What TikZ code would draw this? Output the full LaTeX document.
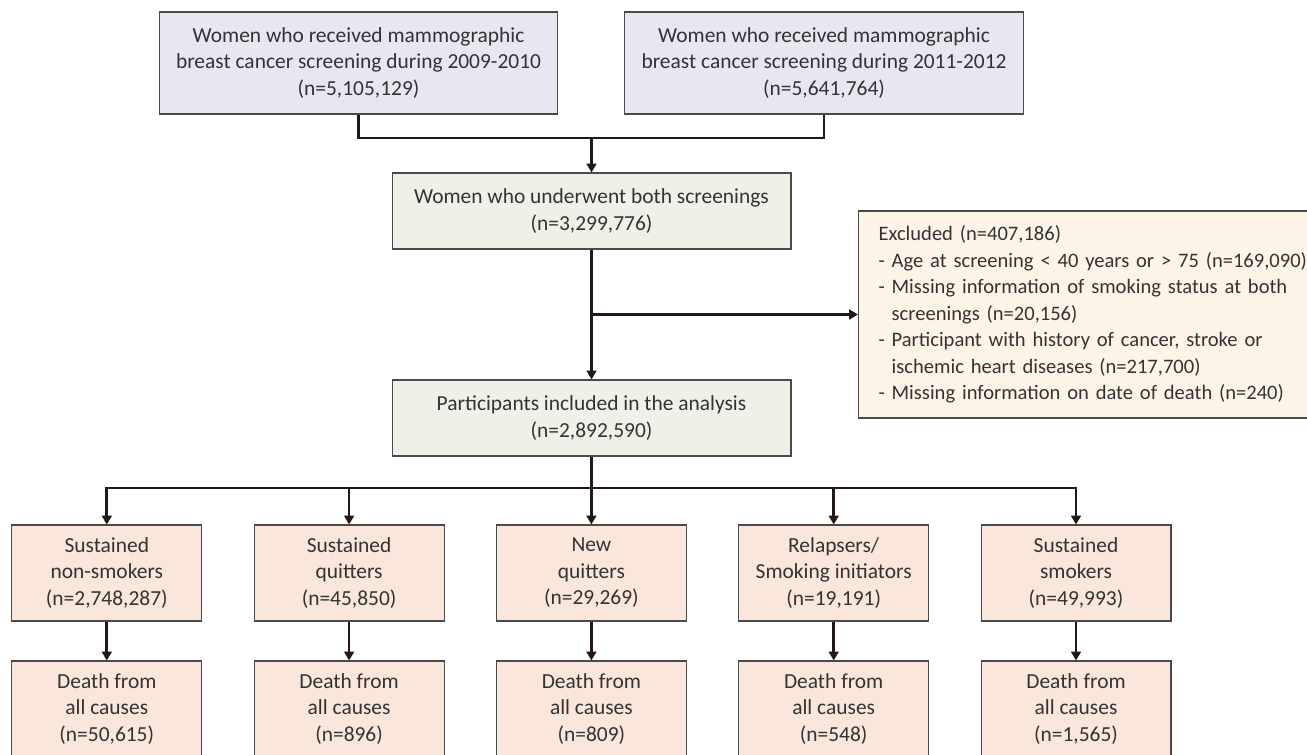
\documentclass[tikz,border=0pt]{standalone}
\usepackage{fontspec}
\setmainfont{Carlito}
\usepackage{xcolor}
\usetikzlibrary{arrows.meta}
\definecolor{screenfill}{HTML}{E7E7F1}
\definecolor{mainfill}{HTML}{EEF1E8}
\definecolor{exclfill}{HTML}{FDF4E8}
\definecolor{groupfill}{HTML}{FAE6DB}
\definecolor{boxline}{HTML}{4A4A4A}
\definecolor{connline}{HTML}{231815}
\definecolor{txtgray}{HTML}{333333}
\tikzset{
    flowbox/.style={draw=boxline, line width=0.6pt, align=center, inner sep=0pt, text=txtgray,
        font=\fontsize{12.2}{15.1}\selectfont},
    screenbox/.style={flowbox, fill=screenfill, minimum width=7.98cm, minimum height=2.04cm},
    mainbox/.style={flowbox, fill=mainfill, minimum width=7.98cm, minimum height=1.52cm},
    groupbox/.style={flowbox, fill=groupfill, minimum width=3.8cm, minimum height=1.92cm},
    exclbox/.style={flowbox, fill=exclfill, align=left, text width=9.6cm, inner xsep=0.4cm,
        minimum height=4.14cm, font=\fontsize{11.7}{15.1}\selectfont},
    conn/.style={draw=connline, line width=1.5pt},
    arr/.style={conn, -{Triangle[length=5pt,width=5.5pt]}}
}

\begin{document}
\begin{tikzpicture}[x=0.02cm,y=-0.02cm]
            \useasboundingbox (0,0) rectangle (1307,754);
            \node[screenbox] (scr1) at (358.5,63) {Women who received mammographic\\breast cancer screening during 2009-2010\\(n=5,105,129)};
            \node[screenbox] (scr2) at (824,63) {Women who received mammographic\\breast cancer screening during 2011-2012\\(n=5,641,764)};
            \node[mainbox] (both) at (591.5,211) {Women who underwent both screenings\\(n=3,299,776)};
            \node[mainbox] (incl) at (591.5,418) {Participants included in the analysis\\(n=2,892,590)};
            \node[exclbox, anchor=west] (excl) at (858,314.5) {Excluded (n=407,186)\\
                - Age at screening < 40 years or > 75 (n=169,090)\\
                - Missing information of smoking status at both\\
                \hphantom{- }screenings (n=20,156)\\
                - Participant with history of cancer, stroke or\\
                \hphantom{- }ischemic heart diseases (n=217,700)\\
                - Missing information on date of death (n=240)};
            \coordinate (join) at (591.5,138);
            \coordinate (fork) at (591.5,488);
            \draw[conn] (scr1.south) |- (join) -| (scr2.south);
            \draw[arr] (join) -- (both.north);
            \draw[arr] (both.south) -- (incl.north);
            \draw[arr] (both.south |- excl.west) -- (excl.west);
            \draw[conn] (incl.south) -- (fork);
            \foreach \i/\grp/\dth in {0/{Sustained\\non-smokers\\(n=2,748,287)}/{(n=50,615)},
                                      1/{Sustained\\quitters\\(n=45,850)}/{(n=896)},
                                      2/{New\\quitters\\(n=29,269)}/{(n=809)},
                                      3/{Relapsers/\\Smoking initiators\\(n=19,191)}/{(n=548)},
                                      4/{Sustained\\smokers\\(n=49,993)}/{(n=1,565)}} {
                \node[groupbox] (grp\i) at (106.8+242.3*\i,573) {\grp};
                \node[groupbox] (dth\i) at (106.8+242.3*\i,709) {Death from\\all causes\\\dth};
                \draw[arr] (fork) -| (grp\i.north);
                \draw[arr] (grp\i.south) -- (dth\i.north);
            }
        \end{tikzpicture}
\end{document}
